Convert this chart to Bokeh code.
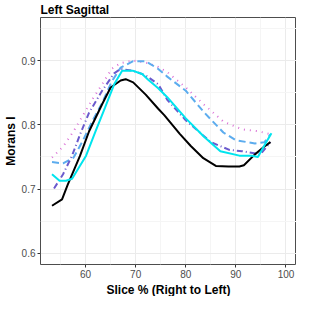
from bokeh.plotting import figure
from bokeh.embed import file_html
from bokeh.resources import INLINE
from bokeh.models import FixedTicker, Range1d, Title

# Data
black_x = [53.3, 55.3, 56.4, 58.9, 60.7, 63.3, 65.0, 67.0, 68.0, 69.5, 72.0, 74.5, 75.7, 78.8, 81.0, 83.5, 86.0, 88.5, 90.7, 91.6, 93.8, 95.5, 96.9]
black_y = [0.674, 0.684, 0.706, 0.752, 0.790, 0.832, 0.858, 0.869, 0.871, 0.866, 0.847, 0.825, 0.815, 0.786, 0.767, 0.748, 0.736, 0.735, 0.735, 0.737, 0.754, 0.765, 0.773]

cyan_x = [53.3, 54.8, 56.1, 57.3, 60.1, 62.0, 63.9, 65.7, 67.3, 69.5, 71.3, 72.5, 74.5, 76.3, 80.0, 83.7, 86.9, 90.7, 93.2, 94.4, 95.9, 97.1]
cyan_y = [0.723, 0.713, 0.713, 0.716, 0.752, 0.790, 0.827, 0.863, 0.884, 0.884, 0.879, 0.870, 0.857, 0.843, 0.810, 0.781, 0.759, 0.752, 0.752, 0.750, 0.771, 0.787]

dash_x = [53.3, 55.5, 57.6, 59.5, 61.3, 63.3, 65.2, 67.0, 69.5, 72.0, 74.5, 76.3, 80.0, 83.7, 87.5, 90.0, 93.8, 95.7, 96.9]
dash_y = [0.742, 0.740, 0.749, 0.776, 0.805, 0.834, 0.867, 0.889, 0.899, 0.899, 0.887, 0.875, 0.853, 0.819, 0.788, 0.776, 0.771, 0.773, 0.785]

dashdot_x = [53.7, 55.5, 57.3, 58.9, 60.7, 63.3, 65.7, 67.0, 69.5, 72.0, 74.5, 76.3, 80.0, 85.0, 88.7, 91.2, 94.9, 96.9]
dashdot_y = [0.701, 0.723, 0.752, 0.785, 0.819, 0.853, 0.880, 0.887, 0.884, 0.877, 0.863, 0.839, 0.807, 0.773, 0.761, 0.759, 0.754, 0.773]

dot_x = [53.3, 55.5, 57.6, 59.5, 61.3, 63.3, 65.2, 67.0, 69.5, 72.0, 74.5, 76.3, 80.0, 83.7, 87.5, 91.2, 94.4, 96.6]
dot_y = [0.749, 0.766, 0.790, 0.815, 0.839, 0.863, 0.887, 0.896, 0.900, 0.897, 0.890, 0.882, 0.858, 0.831, 0.805, 0.793, 0.790, 0.786]

x_ticks = [60, 70, 80, 90, 100]
x_minor = [55, 65, 75, 85, 95]
y_ticks = [0.6, 0.7, 0.8, 0.9]
y_minor = [0.65, 0.75, 0.85, 0.95]

p = figure(width=296, height=296, output_backend="svg", toolbar_location=None,
           x_range=Range1d(51.0, 102.1), y_range=Range1d(0.5826, 0.967),
           title="Left Sagittal")

p.title.text_font = "Liberation Sans"
p.title.text_font_size = "12px"
p.title.text_font_style = "bold"
p.title.text_color = "black"
p.title.offset = 0
p.title.standoff = 1

p.min_border_left = 0
p.min_border_right = 0
p.min_border_top = 0
p.min_border_bottom = 0

p.background_fill_color = "white"
p.border_fill_color = "white"
p.outline_line_color = "#4d4d4d"
p.outline_line_width = 1

p.xaxis.ticker = FixedTicker(ticks=x_ticks, minor_ticks=x_minor)
p.yaxis.ticker = FixedTicker(ticks=y_ticks, minor_ticks=y_minor)

for ax in (p.xaxis, p.yaxis):
    ax.axis_line_color = None
    ax.major_tick_line_color = "#333333"
    ax.major_tick_in = 0
    ax.major_tick_out = 3
    ax.minor_tick_line_color = None
    ax.major_label_text_font = "Liberation Sans"
    ax.major_label_text_font_size = "10px"
    ax.major_label_text_color = "#4d4d4d"
    ax.major_label_standoff = 1
    ax.axis_label_text_font = "Liberation Sans"
    ax.axis_label_text_font_size = "12px"
    ax.axis_label_text_font_style = "bold"
    ax.axis_label_text_color = "black"
    ax.axis_label_standoff = 1

p.yaxis.axis_label = "Morans I"

xlabel = Title(text="Slice % (Right to Left)", align="center",
               text_font="Liberation Sans", text_font_size="12px",
               text_font_style="bold", text_color="black",
               standoff=0, offset=0)
p.add_layout(xlabel, "below")

p.xgrid.grid_line_color = "#ebebeb"
p.ygrid.grid_line_color = "#ebebeb"
p.xgrid.minor_grid_line_color = "#f5f5f5"
p.ygrid.minor_grid_line_color = "#f5f5f5"

p.line(dot_x, dot_y, line_color="#DA70D6", line_width=2, line_dash="1 5")
p.line(dash_x, dash_y, line_color="#5CACEE", line_width=2, line_dash="7 4")
p.line(dashdot_x, dashdot_y, line_color="#6A5ACD", line_width=2, line_dash="6 3 1 3")
p.line(black_x, black_y, line_color="black", line_width=2)
p.line(cyan_x, cyan_y, line_color="#00E5EE", line_width=2)

open("out.html", "w").write(file_html(p, INLINE))
